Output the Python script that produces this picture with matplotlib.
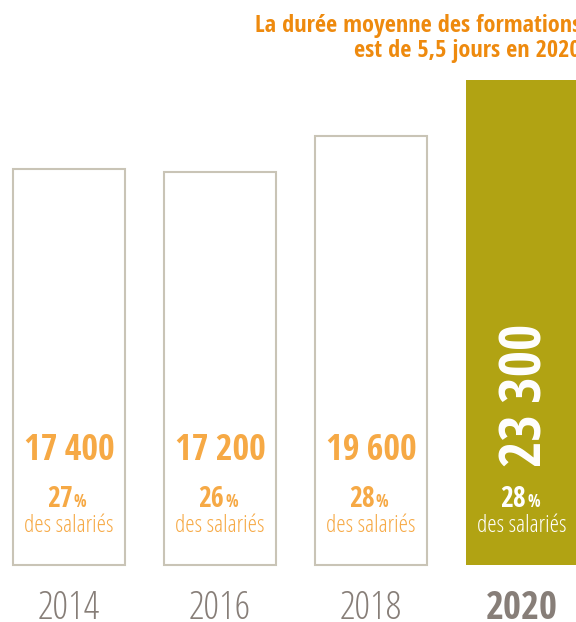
import matplotlib
matplotlib.use("Agg")
import matplotlib.pyplot as plt

# Data
years = ["2014", "2016", "2018", "2020"]
stagiaires = [17400, 17200, 19600, 23300]
value_labels = ["17\u2009400", "17\u2009200", "19\u2009600", "23\u2009300"]
pct_salaries = ["27", "26", "28", "28"]
title_lines = ["La durée moyenne des formations", "est de 5,5 jours en 2020"]

plt.rcParams['font.family'] = ['Open Sans', 'DejaVu Sans']
plt.rcParams['font.stretch'] = 'condensed'
bold_family = ['Open Sans Condensed', 'DejaVu Sans']

W, H = 576, 622
fig = plt.figure(figsize=(W / 100, H / 100), dpi=100, facecolor="white")
base_px, top_px = 57, 542
ax = fig.add_axes([0, base_px / H, 1, (top_px - base_px) / H])
base = -9000  # bars are not drawn from zero in the original
ax.set_ylim(base, max(stagiaires))
step = 151
ax.set_xlim(-69 / step, (W - 69) / step)
ax.axis("off")

outline = "#C9C4B6"
olive = "#B1A313"
orange = "#F6A945"
grey = "#877E78"

x = list(range(len(years)))
heights = [v - base for v in stagiaires]
for i in x:
    last = i == len(x) - 1
    ax.bar(i, heights[i], bottom=base, width=112 / step,
           color=olive if last else "white",
           edgecolor=olive if last else outline,
           linewidth=0 if last else 1.5, clip_on=False)

tr = ax.get_xaxis_transform()
def fy(px_from_top):
    return ((H - px_from_top) - base_px) / (top_px - base_px)

for i in x:
    last = i == len(x) - 1
    col = "white" if last else orange
    if last:
        ax.text(i + 4 / step, fy(395), value_labels[i], transform=tr, rotation=90,
                ha="center", va="center", color="white",
                fontsize=41, fontweight="bold", family=bold_family)
    else:
        ax.text(i, fy(460), value_labels[i], transform=tr,
                ha="center", va="baseline", color=col,
                fontsize=26, fontweight="bold", family=bold_family)
    ax.text(i + 4 / step, fy(507), pct_salaries[i], transform=tr,
            ha="right", va="baseline", color=col,
            fontsize=20, fontweight="bold", family=bold_family)
    ax.text(i + 5 / step, fy(507), "%", transform=tr,
            ha="left", va="baseline", color=col,
            fontsize=12, fontweight="bold", family=bold_family)
    ax.text(i, fy(532), "des salariés", transform=tr,
            ha="center", va="baseline", color=col, fontsize=17,
            fontweight="light")
    if last:
        ax.text(i, fy(619), years[i], transform=tr,
                ha="center", va="baseline", color=grey, fontsize=28,
                fontweight="bold", family=bold_family)
    else:
        ax.text(i, fy(619), years[i], transform=tr,
                ha="center", va="baseline", color=grey, fontsize=28,
                fontweight="light")

for line, yb in zip(title_lines, [32, 57]):
    fig.text(581 / W, 1 - yb / H, line, ha="right", va="baseline",
             color="#EE8A0E", fontsize=17.5, fontweight="bold", family=bold_family)

fig.savefig("out.png", dpi=100, facecolor="white")
